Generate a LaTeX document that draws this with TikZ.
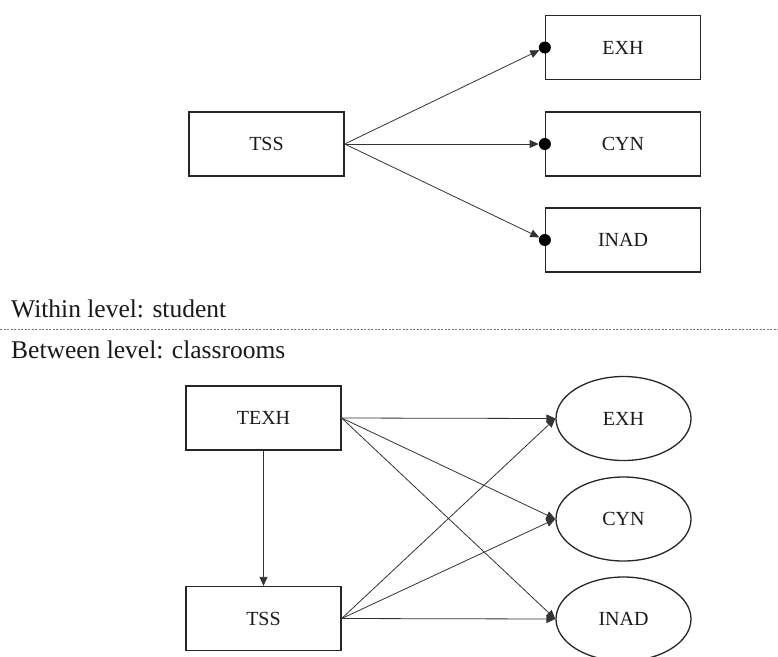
\documentclass[tikz,border=0pt]{standalone}
\usepackage{fontspec}
\setmainfont{Liberation Serif}
\usetikzlibrary{arrows.meta,shapes.geometric}
\tikzset{
  box/.style={draw=black!85, line width=1.3pt, minimum width=155pt, minimum height=64pt, inner sep=0pt, font=\fontsize{20}{22}\selectfont, text=black!90},
  oval/.style={ellipse, draw=black!85, line width=1.3pt, minimum width=135pt, minimum height=84pt, inner sep=0pt, font=\fontsize{20}{22}\selectfont, text=black!90},
  dotmark/.style={circle, fill=black, inner sep=0pt, minimum size=12pt},
  path/.style={draw=black!80, line width=0.8pt, -{Triangle[length=9pt,width=8pt]}},
  level/.style={anchor=base west, inner sep=0pt, font=\fontsize{25.5}{28}\selectfont, text=black!90}
}
\begin{document}
\begin{tikzpicture}[x=1pt,y=-1pt]
\useasboundingbox (0,0) rectangle (778,656);
% within level
\node[box] (tssw) at (266.5,144) {TSS};
\node[box] (exhw) at (623,47.5) {EXH};
\node[box] (cynw) at (623,144) {CYN};
\node[box] (inadw) at (623,240) {INAD};
\node[dotmark] (dexh) at (exhw.west) {};
\node[dotmark] (dcyn) at (cynw.west) {};
\node[dotmark] (dinad) at (inadw.west) {};
\draw[path] (tssw.east) -- (dexh);
\draw[path] (tssw.east) -- (dcyn);
\draw[path] (tssw.east) -- (dinad);
% labels and separator
\node[level] (within) at (11,317) {Within level: student};
\coordinate (sepl) at (0,329);
\coordinate (sepr) at (778,329);
\draw[black!55, line width=0.6pt, dash pattern=on 2pt off 1.5pt] (sepl) -- (sepr);
\node[level] (between) at (11,358) {Between level: classrooms};
% between level
\node[box] (texh) at (263.5,418) {TEXH};
\node[box] (tssb) at (263.5,618.5) {TSS};
\node[oval] (exhb) at (623.5,418.5) {EXH};
\node[oval] (cynb) at (623.5,519) {CYN};
\node[oval] (inadb) at (623.5,619) {INAD};
\draw[path] (texh) -- (tssb);
\draw[path] (texh.east) -- (exhb.west);
\draw[path] (texh.east) -- (cynb.west);
\draw[path] (texh.east) -- (inadb.west);
\draw[path] (tssb.east) -- (exhb.west);
\draw[path] (tssb.east) -- (cynb.west);
\draw[path] (tssb.east) -- (inadb.west);
\end{tikzpicture}
\end{document}
